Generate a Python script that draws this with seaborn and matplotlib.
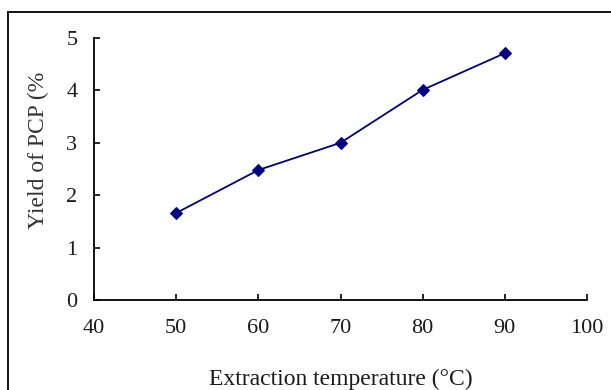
import matplotlib
matplotlib.use("Agg")
import matplotlib.pyplot as plt
import seaborn as sns
import pandas as pd
from matplotlib.lines import Line2D

temperature = [50, 60, 70, 80, 90]
yield_pcp = [1.66, 2.48, 3.0, 4.01, 4.71]
x_ticks = [40, 50, 60, 70, 80, 90, 100]
y_ticks = [0, 1, 2, 3, 4, 5]

df = pd.DataFrame({"temperature": temperature, "yield": yield_pcp})

sns.set_style("ticks")
plt.rcParams["font.family"] = ["Liberation Serif", "DejaVu Serif"]

fig = plt.figure(figsize=(6.11, 3.9), dpi=100)
ax = fig.add_axes([94/611, 1 - 300/390, (587-94)/611, (300-38)/390])

sns.lineplot(data=df, x="temperature", y="yield", ax=ax, color="#000080",
             marker="D", markersize=6.5, markeredgecolor="#000080",
             linewidth=1.3, estimator=None)

ax.set_xlim(40, 100)
ax.set_ylim(0, 5)
ax.set_xticks(x_ticks)
ax.set_yticks(y_ticks)
ax.tick_params(axis="both", direction="in", length=4, width=1.2, colors="black",
               labelsize=16, labelcolor="#1a1a1a")
ax.tick_params(axis="x", pad=14)
ax.tick_params(axis="y", pad=12)
for s in ["top", "right"]:
    ax.spines[s].set_visible(False)
for s in ["left", "bottom"]:
    ax.spines[s].set_linewidth(1.3)
    ax.spines[s].set_color("black")

ax.set_xlabel("Extraction temperature (°C)", fontsize=17, color="#1a1a1a", labelpad=22)
ax.set_ylabel("Yield of PCP (%", fontsize=17, color="#333333", labelpad=14)
ax.yaxis.set_label_coords(-0.092, 0.57)

# figure border (left and top visible)
fig.add_artist(Line2D([8/611, 8/611], [0, 1 - 12/390], transform=fig.transFigure,
                      color="black", linewidth=1.3))
fig.add_artist(Line2D([8/611, 1], [1 - 12/390, 1 - 12/390], transform=fig.transFigure,
                      color="black", linewidth=1.3))

fig.savefig("out.png", dpi=100)
